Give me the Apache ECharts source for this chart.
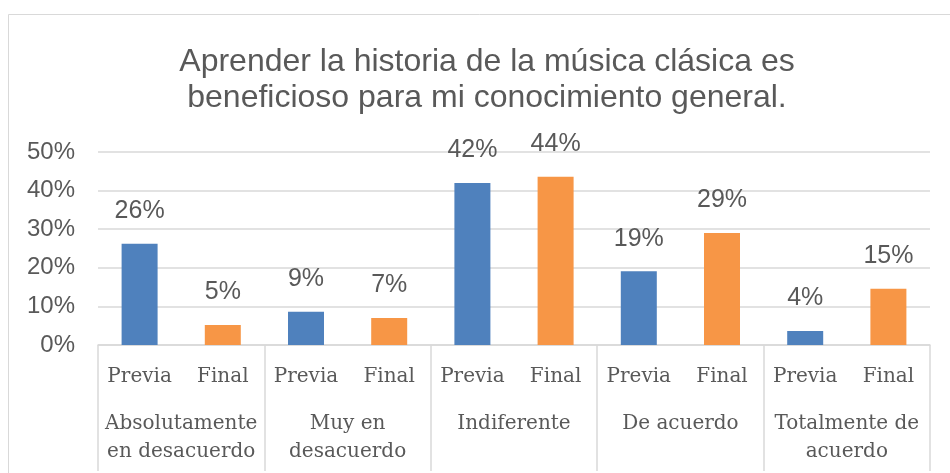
<!DOCTYPE html>
<html>
<head>
<meta charset="utf-8">
<script src="https://cdn.jsdelivr.net/npm/echarts@6/dist/echarts.min.js"></script>
<style>html,body{margin:0;padding:0;background:#fff}#c{width:950px;height:473px}</style>
</head>
<body>
<div id="c"></div>
<script>
var titleText = 'Aprender la historia de la música clásica es\nbeneficioso para mi conocimiento general.';
var groups = ['Absolutamente\nen desacuerdo', 'Muy en\ndesacuerdo', 'Indiferente', 'De acuerdo', 'Totalmente de\nacuerdo'];
var subCats = ['Previa', 'Final'];
var previa = [26.2, 8.6, 42.0, 19.1, 3.6];
var final_ = [5.2, 7.0, 43.6, 29.0, 14.6];
var yTicks = { min: 0, max: 50, interval: 10 };

var cats = [], prevData = [], finData = [];
groups.forEach(function (g, i) {
  cats.push(subCats[0], subCats[1]);
  prevData.push(previa[i], null);
  finData.push(null, final_[i]);
});

var textColor = '#595959';
var lineColor = '#d9d9d9';
var labelOpt = {
  show: true, position: 'top', distance: 20,
  color: textColor, fontFamily: 'Liberation Sans', fontSize: 25,
  formatter: function (p) { return Math.round(p.value) + '%'; }
};

var chart = echarts.init(document.getElementById('c'));
chart.setOption({
  animation: false,
  backgroundColor: '#fff',
  graphic: [{
    type: 'rect', shape: { x: 8.5, y: 14.5, width: 1000, height: 500 },
    style: { fill: 'none', stroke: lineColor, lineWidth: 1 }, z: -1
  }],
  title: {
    text: titleText, left: 487, top: 44, textAlign: 'center', padding: 0,
    textStyle: { color: textColor, fontFamily: 'Liberation Sans', fontWeight: 'normal', fontSize: 32, lineHeight: 36 }
  },
  grid: { left: 98, right: 20, top: 152, bottom: 128, containLabel: false },
  xAxis: [{
    type: 'category', data: cats, position: 'bottom',
    axisLine: { show: true, lineStyle: { color: lineColor, width: 1.5 } },
    axisTick: { show: false },
    axisLabel: { color: textColor, fontFamily: 'DejaVu Serif', fontSize: 20, lineHeight: 20, margin: 22, interval: 0 }
  }, {
    type: 'category', data: groups, position: 'bottom', boundaryGap: true,
    axisLine: { show: false },
    axisTick: { show: true, length: 126, lineStyle: { color: lineColor, width: 1.5 } },
    axisLabel: { color: textColor, fontFamily: 'DejaVu Serif', fontSize: 20, lineHeight: 28, margin: 65, interval: 0 }
  }],
  yAxis: {
    type: 'value', min: yTicks.min, max: yTicks.max, interval: yTicks.interval,
    axisLine: { show: false }, axisTick: { show: false },
    splitLine: { lineStyle: { color: lineColor, width: 1.5 } },
    axisLabel: { color: textColor, fontFamily: 'Liberation Sans', fontSize: 24, margin: 23, formatter: '{value}%' }
  },
  series: [{
    name: 'Previa', type: 'bar', data: prevData, barWidth: 36, barGap: '-100%',
    itemStyle: { color: '#4f81bd' }, label: labelOpt
  }, {
    name: 'Final', type: 'bar', data: finData, barWidth: 36, barGap: '-100%',
    itemStyle: { color: '#f79646' }, label: labelOpt
  }]
});
</script>
</body>
</html>
